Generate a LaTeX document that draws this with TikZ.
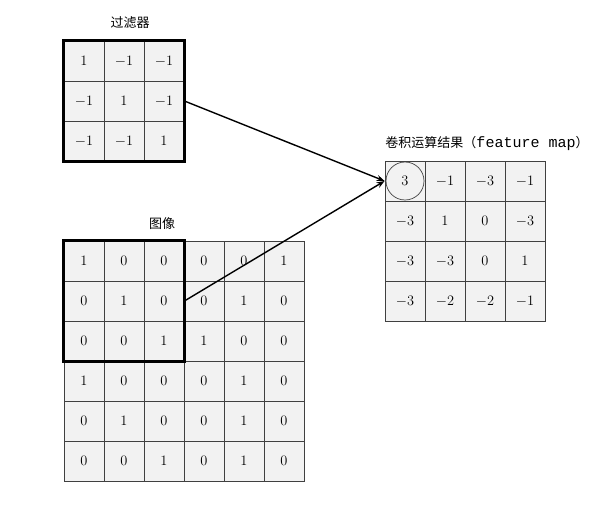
\documentclass[tikz,border=0pt]{standalone}
\usepackage{fontspec}
\newfontfamily\cjk{Noto Sans CJK SC}
\newfontfamily\mono{Liberation Mono}
\usetikzlibrary{arrows.meta}
\definecolor{cellc}{HTML}{F2F2F2}
\definecolor{gridc}{HTML}{404040}
\begin{document}
\begin{tikzpicture}[x=1pt,y=-1pt,
  cell/.style={draw=gridc, fill=cellc, minimum size=40pt, inner sep=0pt, line width=0.8pt, font=\fontsize{13.5}{15}\selectfont},
  frame/.style={draw=black, line width=2.6pt},
  title/.style={font=\cjk\fontsize{13}{15}\selectfont, inner sep=0pt},
  conn/.style={draw=black, line width=1.4pt, -{Stealth[length=8pt,width=6pt]}}]
\useasboundingbox[fill=white] (0,0) rectangle (612,506);
% filter
\foreach \r/\row in {1/{1,-1,-1},2/{-1,1,-1},3/{-1,-1,1}}{
  \foreach \v [count=\c] in \row {
    \node[cell] (f-\r-\c) at (44+40*\c, 21+40*\r) {$\v$};
  }
}
% image
\foreach \r/\row in {1/{1,0,0,0,0,1},2/{0,1,0,0,1,0},3/{0,0,1,1,0,0},4/{1,0,0,0,1,0},5/{0,1,0,0,1,0},6/{0,0,1,0,1,0}}{
  \foreach \v [count=\c] in \row {
    \node[cell] (i-\r-\c) at (44+40*\c, 221+40*\r) {$\v$};
  }
}
% result
\foreach \r/\row in {1/{3,-1,-3,-1},2/{-3,1,0,-3},3/{-3,-3,0,1},4/{-3,-2,-2,-1}}{
  \foreach \v [count=\c] in \row {
    \node[cell] (r-\r-\c) at (365+40*\c, 141+40*\r) {$\v$};
  }
}
\draw[frame] (f-1-1.north west) rectangle (f-3-3.south east);
\draw[frame] (i-1-1.north west) rectangle (i-3-3.south east);
\node[circle, draw=gridc, line width=0.7pt, minimum size=38pt, inner sep=0pt] (ring) at (r-1-1) {};
\node[title] (tf) at (130,23) {过滤器};
\node[title] (ti) at (162,224) {图像};
\node[title] (tr) at (487,143) {卷积运算结果（{\mono\fontsize{15}{15}\selectfont feature map}）};
\draw[conn] (f-2-3.east) -- (r-1-1.west);
\draw[conn] (i-2-3.east) -- (r-1-1.west);
\end{tikzpicture}
\end{document}
